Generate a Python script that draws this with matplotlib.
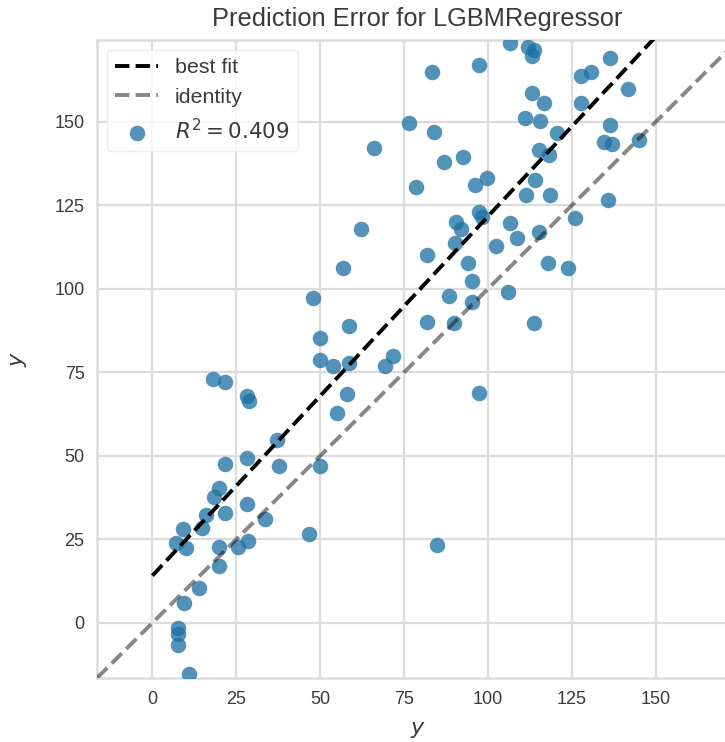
import numpy as np
import matplotlib
matplotlib.use("Agg")
import matplotlib.pyplot as plt

# Actual target values (y) and model predictions (y_hat)
y_true = [
    46.8, 9.2, 6.9, 10.1, 14.9, 16.1, 21.5, 28.3, 33.7, 20.0,
    25.6, 28.6, 20.0, 14.0, 9.5, 7.7, 7.7, 7.7, 11.0, 18.2,
    21.5, 28.3, 28.9, 37.0, 21.5, 28.3, 37.6, 49.8, 20.0, 18.5,
    62.3, 56.9, 48.0, 58.7, 49.8, 49.8, 53.9, 58.7, 71.8, 69.2,
    58.1, 55.1, 97.2, 81.7, 90.3, 93.9, 95.1, 88.5, 95.1, 81.7,
    90.0, 102.5, 83.2, 97.2, 76.6, 83.8, 65.9, 87.0, 92.7, 78.7,
    96.0, 99.6, 90.6, 92.1, 97.2, 98.1, 106.7, 111.8, 113.6, 113.0,
    136.5, 127.6, 130.8, 141.6, 113.0, 116.8, 127.6, 110.9, 115.4, 120.7,
    136.5, 134.7, 137.1, 144.9, 115.1, 118.3, 113.9, 111.2, 118.6, 135.9,
    106.7, 125.8, 108.5, 115.1, 118.0, 123.7, 106.1, 113.6, 84.9,
]
y_pred = [
    26.7, 28.2, 24.0, 22.5, 28.5, 32.4, 33.0, 35.7, 31.2, 22.8,
    22.8, 24.6, 17.1, 10.5, 6.0, -1.5, -3.3, -6.6, -15.3, 72.9,
    72.0, 67.8, 66.3, 54.9, 47.7, 49.5, 47.1, 47.1, 40.5, 37.8,
    117.9, 106.2, 97.2, 88.8, 85.2, 78.6, 76.8, 77.7, 79.8, 76.8,
    68.4, 62.7, 68.7, 110.1, 113.7, 107.7, 102.3, 97.8, 96.0, 90.0,
    89.7, 112.8, 165.0, 167.1, 149.7, 147.0, 142.2, 138.0, 139.5, 130.5,
    131.1, 133.2, 120.0, 117.9, 123.0, 121.5, 173.7, 172.5, 171.6, 169.8,
    169.2, 163.8, 165.0, 159.9, 158.7, 155.7, 155.7, 151.2, 150.3, 146.7,
    149.1, 144.0, 143.4, 144.6, 141.6, 140.1, 132.6, 128.1, 128.1, 126.6,
    119.7, 121.2, 115.2, 117.0, 107.7, 106.2, 99.0, 89.7, 23.4,
]
r2_score = 0.409
model_name = "LGBMRegressor"
axis_limits = (-16.5, 174.5)
tick_values = [0, 25, 50, 75, 100, 125, 150]

plt.rcParams["font.family"] = ["Liberation Sans", "DejaVu Sans"]
plt.rcParams["mathtext.fontset"] = "dejavusans"

text_color = "#3a3a3a"
grid_color = "#dcdcdc"

fig = plt.figure(figsize=(7.25, 7.42), dpi=100)
ax = fig.add_axes([97 / 725, 64 / 742, 641 / 725, 638 / 742])
ax.set_facecolor("white")

yt = np.asarray(y_true)
yp = np.asarray(y_pred)

ax.scatter(yt, yp, s=125, color="#1a6fa3", alpha=0.75, linewidths=0,
           label=f"$R^2 = {r2_score:.3f}$", zorder=3)

# least squares fit of predictions on targets, spanning the data range
slope, intercept = np.polyfit(yt, yp, 1)
span = yt.max() - yt.min()
xr = np.linspace(yt.min() - 0.05 * span, yt.max() + 0.05 * span, 100)
ax.plot(xr, slope * xr + intercept, ls="--", lw=2.8, color="black",
        label="best fit", zorder=4)

# identity line y_hat = y across the full view
ax.plot(axis_limits, axis_limits, ls="--", lw=2.8, color="#111111",
        alpha=0.5, label="identity", zorder=4)

ax.set_xlim(axis_limits)
ax.set_ylim(axis_limits)
ax.set_xticks(tick_values)
ax.set_yticks(tick_values)
ax.grid(True, color=grid_color, lw=1.6, zorder=0)
ax.set_axisbelow(True)
for sp in ax.spines.values():
    sp.set_color(grid_color)
    sp.set_linewidth(1.8)
ax.tick_params(axis="both", length=0, labelsize=13, labelcolor=text_color, pad=9)

ax.set_title(f"Prediction Error for {model_name}", fontsize=18.3,
             color=text_color, pad=10)
ax.set_xlabel("$y$", fontsize=16, color=text_color, labelpad=8)
ax.set_ylabel("$y$", fontsize=16, color=text_color, labelpad=18)

handles, labels = ax.get_legend_handles_labels()
order = [labels.index("best fit"), labels.index("identity"),
         labels.index(f"$R^2 = {r2_score:.3f}$")]
leg = ax.legend([handles[i] for i in order], [labels[i] for i in order],
                loc="upper left", fontsize=15.4, frameon=True, fancybox=True,
                borderaxespad=0.45, handlelength=2.0, labelspacing=0.5,
                scatterpoints=1)
leg.get_frame().set_edgecolor("#e6e6e6")
leg.get_frame().set_linewidth(1.0)
for t in leg.get_texts():
    t.set_color(text_color)

fig.savefig("out.png", dpi=100, facecolor="white")
